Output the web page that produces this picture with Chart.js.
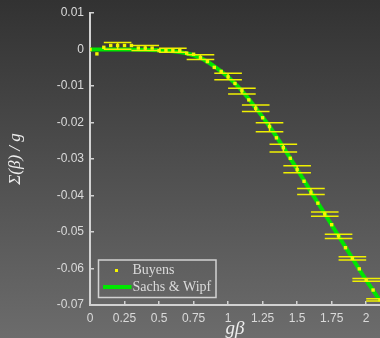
<!DOCTYPE html>
<html>
<head>
<meta charset="utf-8">
<script src="https://cdn.jsdelivr.net/npm/chart.js@4.4.0/dist/chart.umd.min.js"></script>
<style>
  html, body { margin: 0; padding: 0; }
  body { width: 380px; height: 338px; overflow: hidden; background: linear-gradient(#323232, #6c6c6c); }
  canvas { display: block; }
</style>
</head>
<body>
<canvas id="chart" width="380" height="338"></canvas>
<script>
// Buyens data points (every 0.05 in g*beta)
const buyensX = [0, 0.05, 0.1, 0.15, 0.2, 0.25, 0.3, 0.35, 0.4, 0.45,
  0.5, 0.55, 0.6, 0.65, 0.7, 0.75, 0.8, 0.85, 0.9, 0.95,
  1.0, 1.05, 1.1, 1.15, 1.2, 1.25, 1.3, 1.35, 1.4, 1.45,
  1.5, 1.55, 1.6, 1.65, 1.7, 1.75, 1.8, 1.85, 1.9, 1.95,
  2.0, 2.05, 2.1];
const buyensY = [0, -0.0012, 0.0006, 0.0011, 0.0011, 0.0011, 0.0011, 0.0004, 0.0004, 0.0004,
  -0.0003, -0.0003, -0.0003, -0.0003, -0.0010, -0.0013, -0.0022, -0.0033, -0.0049, -0.0060,
  -0.0075, -0.0093, -0.0113, -0.0138, -0.0161, -0.0187, -0.0211, -0.0242, -0.0269, -0.0298,
  -0.0329, -0.0361, -0.0391, -0.0421, -0.0451, -0.0480, -0.0511, -0.0543, -0.0572, -0.0601,
  -0.0632, -0.0659, -0.0686];

// error bars (centre x, centre y, half height)
const errX = [0.2, 0.4, 0.6, 0.8, 1.0, 1.1, 1.2, 1.3, 1.4, 1.5, 1.6, 1.7, 1.8, 1.9, 2.0, 2.1];
const errY = [0.0010, 0.0004, -0.0002, -0.0021, -0.0074, -0.0114, -0.0161, -0.0213, -0.0270, -0.0328,
  -0.0389, -0.0451, -0.0512, -0.0572, -0.0631, -0.0686];
const errHalf = [0.0009, 0.0007, 0.00055, 0.00065, 0.00087, 0.00077, 0.0009, 0.0012, 0.00106, 0.00096,
  0.00083, 0.0006, 0.00055, 0.00045, 0.00036, 0.0003];
const errCapHalf = 0.1;

// Sachs & Wipf curve
const sachsX = [0, 0.1, 0.2, 0.3, 0.4, 0.5, 0.6, 0.7, 0.8, 0.9, 1.0,
  1.1, 1.2, 1.3, 1.4, 1.5, 1.6, 1.7, 1.8, 1.9, 2.0, 2.1];
const sachsY = [0, 0, 0, 0, -0.0001, -0.0002, -0.0005, -0.0011, -0.0023, -0.0046, -0.0075,
  -0.0113, -0.0160, -0.0211, -0.0268, -0.0328, -0.0390, -0.0450, -0.0511, -0.0572, -0.0632, -0.0688];

const xTicks = [0, 0.25, 0.5, 0.75, 1, 1.25, 1.5, 1.75, 2];
const yTicks = [0.01, 0, -0.01, -0.02, -0.03, -0.04, -0.05, -0.06, -0.07];

const axisColor = '#d2d2d2';
const textColor = '#dadada';
const fmt = v => String(+v.toFixed(2));

const errorBars = {
  id: 'errorBars',
  beforeDatasetDraw(chart, args) {
    if (args.index !== 0) return;
    const { ctx, chartArea, scales: { x, y } } = chart;
    ctx.save();
    ctx.beginPath();
    ctx.rect(chartArea.left, chartArea.top, chartArea.right - chartArea.left, chartArea.bottom - chartArea.top);
    ctx.clip();
    ctx.strokeStyle = '#f0f000';
    ctx.lineWidth = 1.5;
    errX.forEach((ex, i) => {
      const px = x.getPixelForValue(ex);
      const x0 = x.getPixelForValue(ex - errCapHalf);
      const x1 = x.getPixelForValue(ex + errCapHalf);
      const yt = y.getPixelForValue(errY[i] + errHalf[i]);
      const yb = y.getPixelForValue(errY[i] - errHalf[i]);
      ctx.beginPath();
      ctx.moveTo(px, yt); ctx.lineTo(px, yb);
      ctx.moveTo(x0, yt); ctx.lineTo(x1, yt);
      ctx.moveTo(x0, yb); ctx.lineTo(x1, yb);
      ctx.stroke();
    });
    ctx.restore();
  }
};

const legendBox = {
  id: 'legendBox',
  afterDraw(chart) {
    const { ctx, chartArea } = chart;
    const left = chartArea.left + 8.5;
    const top = chartArea.bottom - 45;
    ctx.save();
    ctx.strokeStyle = axisColor;
    ctx.lineWidth = 1.5;
    ctx.strokeRect(left, top, 117.5, 37.5);
    ctx.fillStyle = '#f5f500';
    ctx.fillRect(left + 16.5, top + 9, 3, 3);
    ctx.strokeStyle = '#00e600';
    ctx.lineWidth = 4;
    ctx.beginPath();
    ctx.moveTo(left + 4.5, top + 27);
    ctx.lineTo(left + 33, top + 27);
    ctx.stroke();
    ctx.fillStyle = textColor;
    ctx.font = '14px "Liberation Serif"';
    ctx.textBaseline = 'middle';
    ctx.fillText('Buyens', left + 34, top + 10.5);
    ctx.fillText('Sachs & Wipf', left + 34, top + 27);
    ctx.restore();
  }
};

new Chart(document.getElementById('chart'), {
  type: 'scatter',
  data: {
    datasets: [
      {
        label: 'Buyens',
        data: buyensX.map((x, i) => ({ x, y: buyensY[i] })),
        order: 0,
        pointStyle: 'rect',
        pointRadius: 2.4,
        borderWidth: 0,
        backgroundColor: '#f5f500',
        showLine: false
      },
      {
        label: 'Sachs & Wipf',
        data: sachsX.map((x, i) => ({ x, y: sachsY[i] })),
        order: 1,
        showLine: true,
        borderColor: '#00e600',
        borderWidth: 4,
        pointRadius: 0,
        cubicInterpolationMode: 'monotone'
      }
    ]
  },
  options: {
    responsive: false,
    animation: false,
    devicePixelRatio: 1,
    layout: { autoPadding: false, padding: { top: 13, right: 0, left: 0, bottom: -2 } },
    plugins: { legend: { display: false }, tooltip: { enabled: false } },
    scales: {
      x: {
        type: 'linear',
        min: 0,
        max: 2.1,
        afterBuildTicks: s => { s.ticks = xTicks.map(v => ({ value: v })); },
        afterFit: s => { s.height = 35; s.paddingLeft = 0; s.paddingRight = 0; },
        grid: { display: true, drawOnChartArea: false, drawTicks: true, tickLength: -4, color: axisColor, lineWidth: 1.5 },
        border: { display: true, color: axisColor, width: 2 },
        ticks: {
          autoSkip: false,
          maxRotation: 0,
          padding: 10,
          color: textColor,
          font: { family: '"Liberation Sans"', size: 12 },
          callback: v => fmt(v)
        },
        title: {
          display: true,
          text: 'gβ',
          color: '#eeeeee',
          padding: { top: 0, bottom: 0 },
          font: { family: '"Liberation Serif"', size: 19, style: 'italic' }
        }
      },
      y: {
        type: 'linear',
        min: -0.07,
        max: 0.01,
        afterBuildTicks: s => { s.ticks = yTicks.map(v => ({ value: v })); },
        afterFit: s => { s.width = 90; s.paddingTop = 0; s.paddingBottom = 0; },
        grid: { display: true, drawOnChartArea: false, drawTicks: true, tickLength: -4, color: axisColor, lineWidth: 1.5 },
        border: { display: true, color: axisColor, width: 2 },
        ticks: {
          padding: 10,
          color: textColor,
          font: { family: '"Liberation Sans"', size: 12 },
          callback: v => fmt(v)
        },
        title: {
          display: true,
          text: 'Σ(β) / g',
          color: '#eeeeee',
          padding: { top: 5, bottom: 0 },
          font: { family: '"Liberation Serif"', size: 17, style: 'italic' }
        }
      }
    }
  },
  plugins: [errorBars, legendBox]
});
</script>
</body>
</html>
